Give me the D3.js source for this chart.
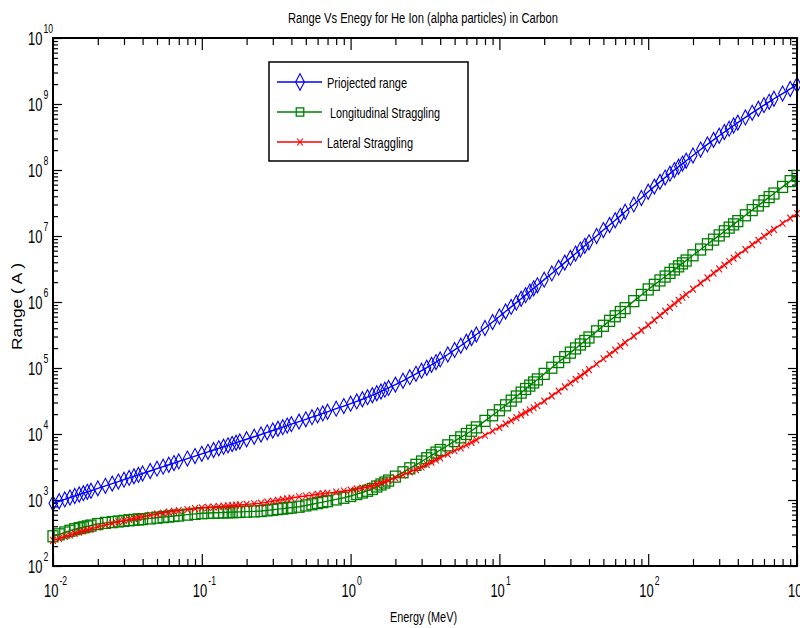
<!DOCTYPE html>
<html>
<head>
<meta charset="utf-8">
<script src="https://cdn.jsdelivr.net/npm/d3@7"></script>
<style>
  html, body { margin: 0; padding: 0; background: #fff; }
  svg { display: block; }
  text { font-family: "Liberation Sans Narrow", "Arial Narrow", "Liberation Sans", Arial, sans-serif; fill: #000; }
</style>
</head>
<body>
<svg id="chart" width="800" height="628"></svg>
<script>
// ---------------- DATA ----------------
const energy = [
  0.01,0.011,0.012,0.013,0.014,0.015,0.016,0.017,0.018,0.02,0.0225,0.025,0.0275,0.03,0.0325,0.035,0.0375,0.04,0.045,0.05,0.055,0.06,0.065,0.07,0.08,0.09,
  0.1,0.11,0.12,0.13,0.14,0.15,0.16,0.17,0.18,0.2,0.225,0.25,0.275,0.3,0.325,0.35,0.375,0.4,0.45,0.5,0.55,0.6,0.65,0.7,0.8,0.9,
  1,1.1,1.2,1.3,1.4,1.5,1.6,1.7,1.8,2,2.25,2.5,2.75,3,3.25,3.5,3.75,4,4.5,5,5.5,6,6.5,7,8,9,
  10,11,12,13,14,15,16,17,18,20,22.5,25,27.5,30,32.5,35,37.5,40,45,50,55,60,65,70,80,90,
  100,110,120,130,140,150,160,170,180,200,225,250,275,300,325,350,375,400,450,500,550,600,650,700,800,900,1000
];
const projectedRange = [
  891,957,1020,1090,1150,1210,1270,1330,1380,1500,1640,1770,1900,2030,2160,2280,2400,2520,2750,2980,3200,3420,3630,3840,4240,4630,
  5010,5370,5720,6070,6400,6730,7060,7380,7690,8320,9080,9840,10600,11300,12000,12700,13400,14100,15400,16700,18000,19200,20500,21700,24200,26500,
  28800,31200,33600,36100,38700,41400,44100,47000,49900,56000,64000,72600,81500,91200,101000,112000,123000,135000,160000,188000,217000,250000,285000,322000,404000,497000,
  603000,717000,843000,978000,1.12e6,1.27e6,1.44e6,1.61e6,1.79e6,2.18e6,2.71e6,3.31e6,3.95e6,4.66e6,5.42e6,6.23e6,7.10e6,8.02e6,1.00e7,1.23e7,1.47e7,1.73e7,2.02e7,2.33e7,3.01e7,3.77e7,
  4.68e7,5.60e7,6.61e7,7.68e7,8.80e7,9.98e7,1.12e8,1.25e8,1.38e8,1.66e8,2.04e8,2.44e8,2.86e8,3.30e8,3.76e8,4.23e8,4.72e8,5.22e8,6.26e8,7.35e8,8.46e8,9.61e8,1.08e9,1.20e9,1.44e9,1.69e9,1.95e9
];
const longitudinalStraggling = [
  282,302,322,342,361,374,386,398,410,432,450,462,473,483,493,500,507,513,526,539,550,561,572,582,600,616,
  631,636,640,644,648,651,654,657,660,666,672,680,696,712,727,741,755,767,791,827,862,896,929,960,1020,1080,
  1150,1230,1300,1380,1470,1600,1720,1840,1970,2260,2630,3020,3410,3830,4290,4750,5230,5720,6730,7800,8890,10000,11200,12600,15800,19200,
  22900,27200,32000,37000,42400,48100,54100,60400,67100,81400,101000,123000,146000,171000,198000,227000,257000,290000,359000,436000,518000,608000,705000,806000,1.03e6,1.28e6,
  1.55e6,1.82e6,2.12e6,2.43e6,2.76e6,3.11e6,3.47e6,3.85e6,4.25e6,5.10e6,6.24e6,7.49e6,8.81e6,1.02e7,1.18e7,1.34e7,1.50e7,1.68e7,2.06e7,2.47e7,2.90e7,3.38e7,3.88e7,4.40e7,5.54e7,6.78e7,8.13e7
];
const lateralStraggling = [
  245,263,280,296,312,326,340,354,366,391,418,443,466,488,507,525,542,558,587,612,634,654,672,689,716,739,
  759,772,784,795,806,816,825,834,843,859,878,898,930,960,990,1020,1040,1070,1120,1150,1180,1220,1250,1270,1320,1370,
  1410,1470,1520,1560,1630,1720,1810,1890,1980,2170,2410,2660,2890,3160,3450,3740,4040,4340,4950,5570,6180,6810,7450,8140,9580,11100,
  12600,14200,15900,17700,19500,21300,23100,25000,27000,31500,37800,44600,51600,59200,67100,75300,84600,94300,115000,138000,161000,187000,214000,243000,304000,371000,
  447000,533000,626000,726000,831000,941000,1.06e6,1.18e6,1.30e6,1.57e6,1.93e6,2.32e6,2.73e6,3.17e6,3.63e6,4.11e6,4.61e6,5.13e6,6.23e6,7.40e6,8.61e6,9.91e6,1.13e7,1.26e7,1.56e7,1.86e7,2.19e7
];
const seriesNames = ["Priojected range", " Longitudinal Straggling", "Lateral Straggling"];
const xTickValues = [1e-2, 1e-1, 1e0, 1e1, 1e2, 1e3];
const xTickExponents = ["-2", "-1", "0", "1", "2", "3"];
const yTickValues = [1e2, 1e3, 1e4, 1e5, 1e6, 1e7, 1e8, 1e9, 1e10];
const yTickExponents = ["2", "3", "4", "5", "6", "7", "8", "9", "10"];
const titleText = "Range Vs Enegy for He Ion (alpha particles) in Carbon";
const xLabelText = "Energy (MeV)";
const yLabelText = "Range ( A )";

// ---------------- LAYOUT ----------------
const L = 53, R = 797, T = 38, B = 566;
const svg = d3.select("#chart");

const x = d3.scaleLog().domain([1e-2, 1e3]).range([L, R]);
const y = d3.scaleLog().domain([1e2, 1e10]).range([B, T]);

function minorTicks(scale) {
  const [a, b] = scale.domain();
  const out = [];
  for (let e = Math.round(Math.log10(a)); e < Math.round(Math.log10(b)); e++) {
    for (let m = 2; m <= 9; m++) out.push(m * Math.pow(10, e));
  }
  return out;
}
const xMinor = minorTicks(x), yMinor = minorTicks(y);

const axesG = svg.append("g");
function addAxis(axisFn, scale, values, size, transform) {
  const g = axesG.append("g").attr("transform", transform)
    .call(axisFn(scale).tickValues(values).tickSize(size).tickFormat(""));
  g.select(".domain").remove();
  g.selectAll(".tick line").attr("stroke", "#000").attr("stroke-width", 1.2);
  return g;
}
addAxis(d3.axisBottom, x, xMinor, -7, `translate(0,${B})`);
addAxis(d3.axisBottom, x, xTickValues, -12, `translate(0,${B})`);
addAxis(d3.axisTop, x, xMinor, -7, `translate(0,${T})`);
addAxis(d3.axisTop, x, xTickValues, -12, `translate(0,${T})`);
addAxis(d3.axisLeft, y, yMinor, -5, `translate(${L},0)`);
addAxis(d3.axisLeft, y, yTickValues, -9, `translate(${L},0)`);
addAxis(d3.axisRight, y, yMinor, -5, `translate(${R},0)`);
addAxis(d3.axisRight, y, yTickValues, -9, `translate(${R},0)`);

// ---------------- SERIES ----------------
const series = [
  { name: seriesNames[0], values: projectedRange, color: "#0000ff", marker: "diamond" },
  { name: seriesNames[1], values: longitudinalStraggling, color: "#008000", marker: "square" },
  { name: seriesNames[2], values: lateralStraggling, color: "#ff0000", marker: "x" }
];

const line = d3.line().x(d => x(d[0])).y(d => y(d[1]));

function drawMarker(g, type, cx, cy, color, scale) {
  const s = scale || 1;
  if (type === "diamond") {
    const w = 4 * s, h = 7.5 * s;
    g.append("path")
      .attr("d", `M${cx},${cy - h}L${cx + w},${cy}L${cx},${cy + h}L${cx - w},${cy}Z`)
      .attr("fill", "none").attr("stroke", color).attr("stroke-width", 1.1);
  } else if (type === "square") {
    const w = 5 * s, h = 5.5 * s;
    g.append("rect").attr("x", cx - w).attr("y", cy - h).attr("width", 2 * w).attr("height", 2 * h)
      .attr("fill", "none").attr("stroke", color).attr("stroke-width", 1.3);
  } else {
    const w = 2.8 * s, h = 3.5 * s;
    g.append("path")
      .attr("d", `M${cx - w},${cy - h}L${cx + w},${cy + h}M${cx - w},${cy + h}L${cx + w},${cy - h}`)
      .attr("fill", "none").attr("stroke", color).attr("stroke-width", 1.1);
  }
}

const plotG = svg.append("g");
series.forEach(s => {
  const pts = energy.map((e, i) => [e, s.values[i]]);
  const g = plotG.append("g");
  g.append("path").attr("d", line(pts)).attr("fill", "none")
    .attr("stroke", s.color).attr("stroke-width", 1.4);
  pts.forEach(p => drawMarker(g, s.marker, x(p[0]), y(p[1]), s.color));
});

svg.append("rect").attr("x", L).attr("y", T).attr("width", R - L).attr("height", B - T)
  .attr("fill", "none").attr("stroke", "#000").attr("stroke-width", 2);

// ---------------- TICK LABELS (one text element each, base + superscript) ----------------
const lbl = svg.append("g");
function powerLabel(tx, ty, exp) {
  const t = lbl.append("text")
    .attr("transform", `translate(${tx},${ty}) scale(0.72,1)`)
    .attr("font-size", 18);
  t.append("tspan").attr("x", 0).attr("y", 0).text("10");
  t.append("tspan").attr("dx", 1.5).attr("dy", -12).attr("font-size", 12).text(exp);
}
xTickValues.forEach((v, i) => powerLabel(x(v) - 9, 597, xTickExponents[i]));
yTickValues.forEach((v, i) => powerLabel(28, y(v) + 7, yTickExponents[i]));

// ---------------- TITLES ----------------
svg.append("text").attr("x", 288).attr("y", 23).attr("font-size", 14)
  .attr("textLength", 270).attr("lengthAdjust", "spacingAndGlyphs").text(titleText);
svg.append("text").attr("x", 390).attr("y", 622).attr("font-size", 14)
  .attr("textLength", 67).attr("lengthAdjust", "spacingAndGlyphs").text(xLabelText);
svg.append("text").attr("transform", "translate(22,350) rotate(-90)")
  .style("font-family", "'Liberation Sans', Arial, sans-serif")
  .attr("font-size", 14).attr("textLength", 87).attr("lengthAdjust", "spacingAndGlyphs").text(yLabelText);

// ---------------- LEGEND ----------------
const lg = svg.append("g");
lg.append("rect").attr("x", 269).attr("y", 62).attr("width", 199).attr("height", 99)
  .attr("fill", "#fff").attr("stroke", "#000").attr("stroke-width", 1.5);
const legendTextLen = [80, 113, 86];
series.forEach((s, i) => {
  const cy = 82 + i * 30;
  lg.append("line").attr("x1", 277).attr("x2", 322).attr("y1", cy).attr("y2", cy)
    .attr("stroke", s.color).attr("stroke-width", 1.4);
  drawMarker(lg, s.marker, 300, cy, s.color, s.marker === "square" ? 0.75 : (s.marker === "diamond" ? 1.1 : 1));
  lg.append("text").attr("x", 327).attr("y", cy + 5.5).attr("font-size", 15)
    .attr("textLength", legendTextLen[i]).attr("lengthAdjust", "spacingAndGlyphs")
    .attr("xml:space", "preserve").style("white-space", "pre").text(s.name);
});
</script>
</body>
</html>
